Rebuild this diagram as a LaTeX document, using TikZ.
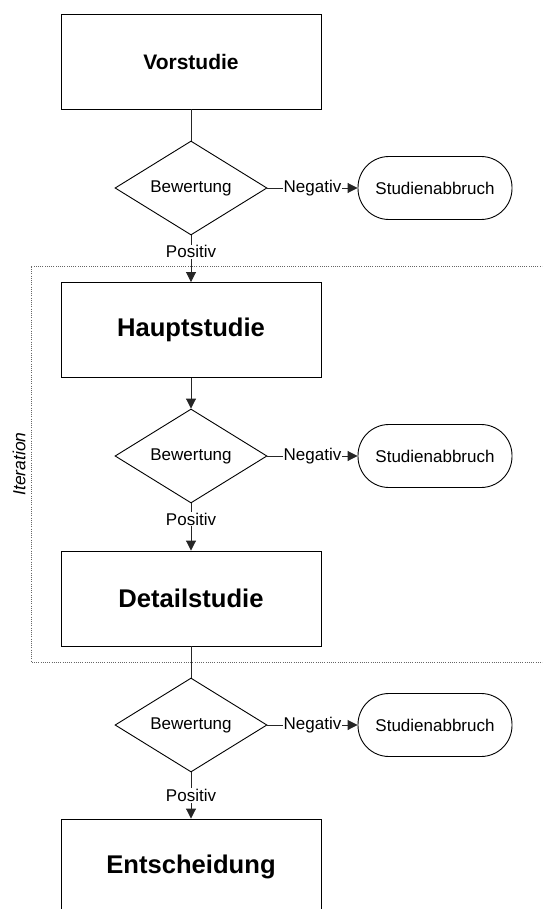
\documentclass[tikz,border=0pt]{standalone}
\usepackage{fontspec}
\setmainfont{Liberation Sans}
\usetikzlibrary{shapes.geometric,arrows.meta}
\begin{document}
\begin{tikzpicture}[x=1pt,y=-1pt,
  line width=0.9pt,
  phase/.style={draw=black,rectangle,minimum width=260pt,minimum height=95pt,inner sep=0pt,font=\bfseries\fontsize{25.6}{28}\selectfont},
  phasesmall/.style={phase,font=\bfseries\fontsize{21}{24}\selectfont},
  decision/.style={draw=black,diamond,aspect=1.6,minimum width=152pt,minimum height=94pt,inner sep=0pt,font=\fontsize{17}{20}\selectfont},
  stopbox/.style={draw=black,rectangle,rounded corners=31pt,minimum width=154pt,minimum height=63pt,inner sep=0pt,font=\fontsize{17}{20}\selectfont},
  flow/.style={draw=black!85},
  arr/.style={flow,-{Triangle[length=10pt,width=10pt]}},
  lbl/.style={fill=white,inner sep=1pt,font=\fontsize{17}{20}\selectfont},
  loopframe/.style={draw=black!60,line width=0.8pt,dash pattern=on 1pt off 1.2pt}
]
\useasboundingbox (0,0) rectangle (542,909);
\clip (0,0) rectangle (542,909);

% iteration frame
\draw[loopframe] (545,266) -- (31,266) -- (31,662) -- (545,662);
\node[rotate=90,font=\itshape\fontsize{17.5}{20}\selectfont] (iter) at (19,464) {Iteration};

% phases
\node[phasesmall] (vor) at (191,61.5) {Vorstudie};
\node[phase] (haupt) at (191,330) {Hauptstudie};
\node[phase] (detail) at (191,598.5) {Detailstudie};
\node[phase] (ent) at (191,866.5) {Entscheidung};

% decisions
\node[decision] (d1) at (191,188) {Bewertung};
\node[decision] (d2) at (191,456) {Bewertung};
\node[decision] (d3) at (191,725) {Bewertung};

% abort terminals
\node[stopbox] (s1) at (435,188) {Studienabbruch};
\node[stopbox] (s2) at (435,456) {Studienabbruch};
\node[stopbox] (s3) at (435,725) {Studienabbruch};

% connectors
\draw[flow] (vor.south) -- (d1.north);
\draw[arr] (d1.south) -- node[lbl,pos=0.35] {Positiv} (haupt.north);
\draw[arr] (d1.east) -- node[lbl] {Negativ} (s1.west);

\draw[arr] (haupt.south) -- (d2.north);
\draw[arr] (d2.south) -- node[lbl,pos=0.33] {Positiv} (detail.north);
\draw[arr] (d2.east) -- node[lbl] {Negativ} (s2.west);

\draw[flow] (detail.south) -- (d3.north);
\draw[arr] (d3.south) -- node[lbl,pos=0.5] {Positiv} (ent.north);
\draw[arr] (d3.east) -- node[lbl] {Negativ} (s3.west);
\end{tikzpicture}
\end{document}
